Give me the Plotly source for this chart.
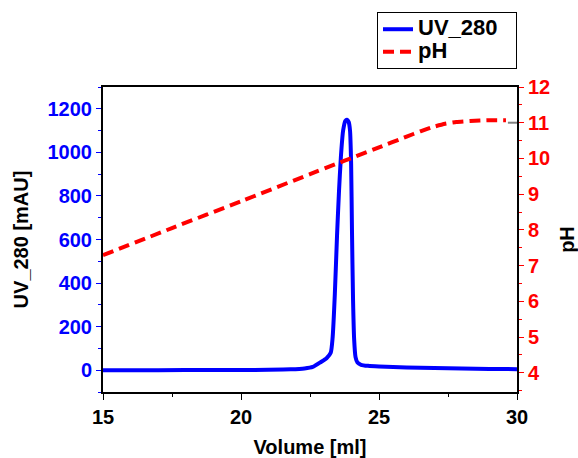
import plotly.graph_objects as go

# UV_280 trace (mAU) vs volume (ml)
uv_volume = [15, 17, 19, 20, 21, 21.8, 22.3, 22.6, 22.9, 23.1, 23.25, 23.32, 23.4, 23.48,
             23.55, 23.62, 23.7, 23.78, 23.84, 23.9, 23.95, 23.99, 24.02, 24.06, 24.1,
             24.15, 24.22, 24.35, 24.6, 25, 26, 27, 28, 29, 30]
uv_280 = [0, 0, 1, 1, 2, 4, 8, 15, 38, 55, 80, 150, 350, 620,
          820, 980, 1100, 1145, 1150, 1140, 1100, 950, 650, 320, 140,
          60, 35, 25, 20, 17, 13, 10, 8, 6, 5]

# pH trace vs volume (ml)
ph_volume = [15, 17.5, 20, 22.5, 25, 26, 26.5, 27, 27.4, 27.8, 28.3, 29, 29.6]
ph_values = [7.29, 8.05, 8.80, 9.56, 10.31, 10.61, 10.76, 10.89, 10.97, 11.02, 11.05, 11.07, 11.07]

FONT = "Arial, Liberation Sans, sans-serif"
LEGEND_TEXT = '<span style="font-size:22px">{}</span>&nbsp;&nbsp;&nbsp;'

fig = go.Figure()
fig.add_trace(go.Scatter(x=uv_volume, y=uv_280, name=LEGEND_TEXT.format("UV_280"), mode="lines",
                         line=dict(color="#0000ff", width=4, shape="spline", smoothing=0.6),
                         yaxis="y"))
fig.add_trace(go.Scatter(x=ph_volume, y=ph_values, name=LEGEND_TEXT.format("pH"), mode="lines",
                         line=dict(color="#ff0000", width=4, dash="11px,6px", shape="spline", smoothing=0.5),
                         yaxis="y2"))

fig.add_shape(type="line", xref="paper", yref="y2", x0=0.978, x1=1.0, y0=11, y1=11,
              line=dict(color="#808080", width=2))

fig.update_layout(
    width=578, height=458,
    margin=dict(l=103, r=61, t=87, b=66),
    paper_bgcolor="white", plot_bgcolor="white",
    font=dict(family=FONT, size=20, color="black", weight="bold"),
    showlegend=True,
    legend=dict(x=1.0, xanchor="right", y=1.246, yanchor="top",
                bordercolor="black", borderwidth=1, bgcolor="white",
                font=dict(size=15, family=FONT, weight="bold", color="black"),
                tracegroupgap=0, itemwidth=30),
    xaxis=dict(range=[15, 30], dtick=5, tick0=15, showgrid=False, zeroline=False,
               automargin=False,
               showline=True, linecolor="black", linewidth=2, mirror=True,
               ticks="outside", ticklen=6, tickwidth=1, tickcolor="black",
               minor=dict(dtick=2.5, ticklen=3, tickcolor="black", ticks="outside"),
               tickfont=dict(size=20, color="black", family=FONT, weight="bold"),
               title=dict(text="Volume [ml]", standoff=14,
                          font=dict(size=20, color="black", family=FONT, weight="bold"))),
    yaxis=dict(range=[-100, 1300], dtick=200, tick0=0, showgrid=False, zeroline=False,
               automargin=False,
               showline=True, linecolor="black", linewidth=2,
               ticks="outside", ticklen=5, tickwidth=1, tickcolor="#0000ff",
               minor=dict(dtick=100, ticklen=3, tickcolor="#0000ff", ticks="outside"),
               tickfont=dict(size=20, color="#0000ff", family=FONT, weight="bold"),
               title=dict(text="UV_280 [mAU]", standoff=14,
                          font=dict(size=20, color="black", family=FONT, weight="bold"))),
    yaxis2=dict(range=[3.46, 12], dtick=1, tick0=4, overlaying="y", side="right",
                showgrid=False, zeroline=False, automargin=False,
                showline=True, linecolor="black", linewidth=2,
                ticks="outside", ticklen=5, tickwidth=1, tickcolor="#ff0000",
                minor=dict(dtick=0.5, ticklen=3, tickcolor="#ff0000", ticks="outside"),
                tickfont=dict(size=20, color="#ff0000", family=FONT, weight="bold"),
                title=dict(text="pH", standoff=11,
                           font=dict(size=20, color="black", family=FONT, weight="bold"))),
)

fig.write_html("out.html")
